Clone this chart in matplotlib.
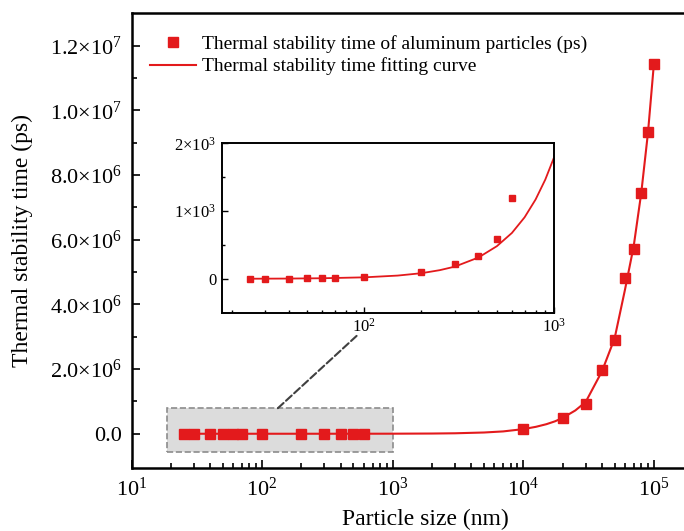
import matplotlib
matplotlib.use('Agg')
import matplotlib.pyplot as plt
from matplotlib.patches import Rectangle, ConnectionPatch
from matplotlib.ticker import FixedLocator, FixedFormatter, LogLocator, NullFormatter

plt.rcParams['font.family'] = ['Liberation Serif', 'DejaVu Serif']
plt.rcParams['mathtext.fontset'] = 'custom'
plt.rcParams['mathtext.rm'] = 'Liberation Serif'
plt.rcParams['mathtext.it'] = 'Liberation Serif:italic'
plt.rcParams['mathtext.bf'] = 'Liberation Serif:bold'

# ---------------- data ----------------
size_nm = [25, 30, 40, 50, 60, 70, 100, 200, 300, 400, 500, 600,
           1e4, 2e4, 3e4, 4e4, 5e4, 6e4, 7e4, 8e4, 9e4, 1e5]
time_ps = [2, 3, 4, 6, 8, 12, 24, 108, 212, 330, 593, 1200,
           1.4e5, 4.8e5, 9.3e5, 1.98e6, 2.90e6, 4.83e6, 5.72e6, 7.44e6, 9.32e6, 11.43e6]

fit_x = [25, 40, 60, 100, 150, 200, 250, 300, 400, 500, 600, 700, 800, 900, 1000,
         2000, 3000, 5000, 7000, 1e4, 1.25e4, 1.5e4, 1.75e4, 2e4, 2.5e4, 3e4, 4e4, 5e4,
         6e4, 7e4, 8e4, 9e4, 1e5]
fit_y = [1.5, 4, 8.5, 22, 48, 83, 128, 180, 315, 482, 677, 908, 1171, 1465, 1790,
         6700, 14500, 38500, 72000, 1.43e5, 2.15e5, 2.95e5, 3.85e5, 4.9e5, 7.2e5,
         0.98e6, 1.93e6, 2.95e6, 4.45e6, 5.8e6, 7.45e6, 9.3e6, 11.45e6]

y_ticks = [0, 2e6, 4e6, 6e6, 8e6, 1e7, 1.2e7]
y_tick_labels = ['0.0', '2.0×10$^{6}$', '4.0×10$^{6}$', '6.0×10$^{6}$',
                 '8.0×10$^{6}$', '1.0×10$^{7}$', '1.2×10$^{7}$']
x_ticks = [1e1, 1e2, 1e3, 1e4, 1e5]
x_tick_labels = ['10$^{1}$', '10$^{2}$', '10$^{3}$', '10$^{4}$', '10$^{5}$']

inset_y_ticks = [0, 1000, 2000]
inset_y_labels = ['0', '1×10$^{3}$', '2×10$^{3}$']
inset_x_ticks = [1e2, 1e3]
inset_x_labels = ['10$^{2}$', '10$^{3}$']

label_points = 'Thermal stability time of aluminum particles (ps)'
label_curve = 'Thermal stability time fitting curve'

RED = '#e31a1c'

fig = plt.figure(figsize=(6.84, 5.31), dpi=100)
ax = fig.add_axes([0.1923, 0.1192, 0.8592, 0.8557])
ax.set_xscale('log')
ax.set_xlim(10, 10 ** 5.5)
ax.set_ylim(-1.05e6, 1.3e7)

box = Rectangle((18.6, -0.55e6), 1000 - 18.6, 1.34e6, facecolor='#dcdcdc',
                edgecolor='#8c8c8c', linestyle='--', linewidth=1.2, zorder=1)
ax.add_patch(box)

line, = ax.plot(fit_x, fit_y, color=RED, lw=1.5, zorder=2)
pts, = ax.plot(size_nm, time_ps, 's', ms=6.5, color=RED, zorder=3)

ax.set_xlabel('Particle size (nm)', fontsize=17, labelpad=6)
ax.set_ylabel('Thermal stability time (ps)', fontsize=17, labelpad=12)

ax.xaxis.set_major_locator(FixedLocator(x_ticks))
ax.xaxis.set_major_formatter(FixedFormatter(x_tick_labels))
ax.xaxis.set_minor_locator(LogLocator(base=10, subs=range(2, 10), numticks=20))
ax.xaxis.set_minor_formatter(NullFormatter())
ax.yaxis.set_major_locator(FixedLocator(y_ticks))
ax.yaxis.set_major_formatter(FixedFormatter(y_tick_labels))
ax.yaxis.set_minor_locator(FixedLocator([1e6, 3e6, 5e6, 7e6, 9e6, 1.1e7]))
ax.tick_params(which='both', direction='in', top=False, right=False, labelsize=16, width=1.2)
ax.tick_params(which='major', length=6, pad=7)
ax.tick_params(which='minor', length=3.5)
for s in ax.spines.values():
    s.set_linewidth(1.8)

leg = ax.legend([pts, line], [label_points, label_curve], loc='upper left',
                bbox_to_anchor=(0.032, 0.953), frameon=False, fontsize=14,
                handlelength=2.35, handletextpad=0.3, labelspacing=0.25,
                borderpad=0, borderaxespad=0)

# ---------------- inset ----------------
ins = fig.add_axes([0.3241, 0.4111, 0.4858, 0.3190])
ins.set_xscale('log')
ins.set_xlim(17.7, 1000)
ins.set_ylim(-500, 2000)
ins.plot(fit_x, fit_y, color=RED, lw=1.3, zorder=2)
ins.plot(size_nm, time_ps, 's', ms=5, color=RED, zorder=3)
ins.xaxis.set_major_locator(FixedLocator(inset_x_ticks))
ins.xaxis.set_major_formatter(FixedFormatter(inset_x_labels))
ins.xaxis.set_minor_locator(LogLocator(base=10, subs=range(2, 10), numticks=20))
ins.xaxis.set_minor_formatter(NullFormatter())
ins.yaxis.set_major_locator(FixedLocator(inset_y_ticks))
ins.yaxis.set_major_formatter(FixedFormatter(inset_y_labels))
ins.yaxis.set_minor_locator(FixedLocator([500, 1500]))
ins.tick_params(which='both', direction='in', top=False, right=False, labelsize=12, width=1.0)
ins.tick_params(which='major', length=4, pad=4)
ins.tick_params(which='minor', length=2.5)
for s in ins.spines.values():
    s.set_linewidth(1.4)

con = ConnectionPatch(xyA=(132, 0.79e6), coordsA=ax.transData,
                      xyB=(0.406, -0.137), coordsB=ins.transAxes,
                      linestyle='--', color='#404040', lw=1.5, zorder=5)
fig.add_artist(con)

fig.savefig('out.png', dpi=100)
